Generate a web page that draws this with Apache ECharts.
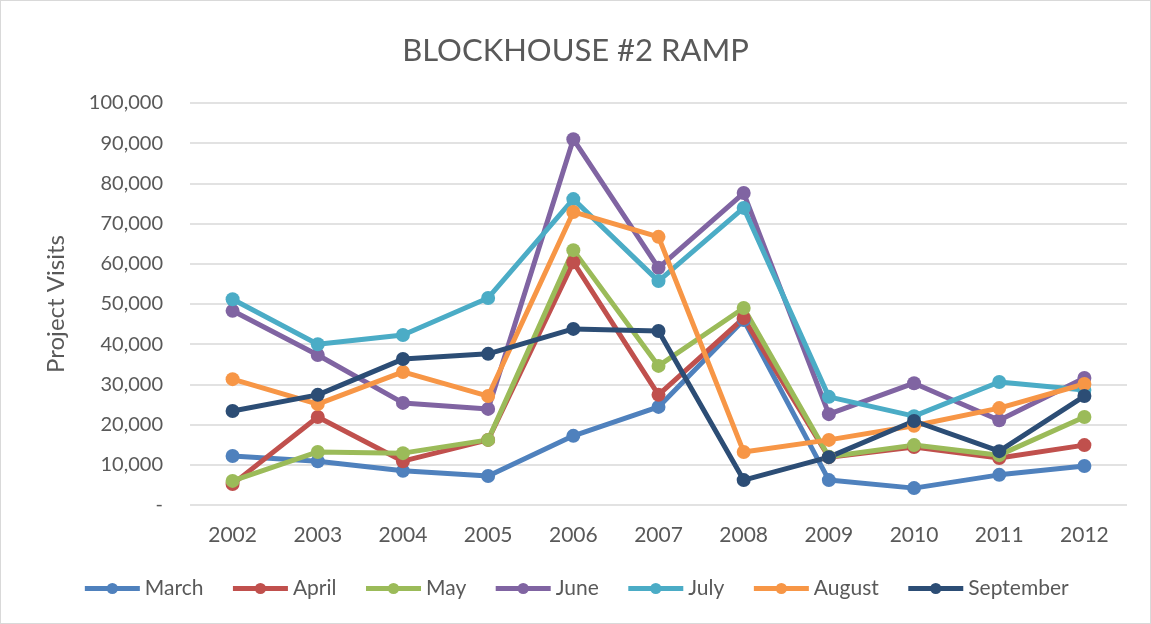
<!DOCTYPE html>
<html>
<head>
<meta charset="utf-8">
<script src="https://cdn.jsdelivr.net/npm/echarts@6/dist/echarts.min.js"></script>
<style>
html,body{margin:0;padding:0;background:#fff;}
#c{width:1149px;height:622px;border:1px solid #d9d9d9;}
</style>
</head>
<body>
<div id="c"></div>
<script>
const years = ['2002','2003','2004','2005','2006','2007','2008','2009','2010','2011','2012'];
const march = [12200,10900,8500,7200,17200,24400,46000,6200,4200,7500,9700];
const april = [5200,21900,10900,16200,60400,27400,46500,11900,14400,11700,14900];
const may = [6000,13200,12900,16200,63400,34600,49000,12000,14900,12400,21900];
const june = [48300,37300,25400,23900,91000,59000,77600,22600,30300,21100,31600];
const july = [51200,40000,42300,51500,76100,55700,73900,26900,22100,30600,28600];
const august = [31300,25100,33100,27100,72900,66700,13200,16200,19700,24100,30100];
const september = [23400,27400,36300,37600,43800,43300,6200,11900,20900,13400,27100];

const seriesDefs = [
  ['March', march, '#4F81BD'],
  ['April', april, '#C0504D'],
  ['May', may, '#9BBB59'],
  ['June', june, '#8064A2'],
  ['July', july, '#4BACC6'],
  ['August', august, '#F79646'],
  ['September', september, '#2C4D75']
];

const chart = echarts.init(document.getElementById('c'));
const font = 'Lato, "Open Sans", sans-serif';
chart.setOption({
  animation: false,
  title: {
    text: 'BLOCKHOUSE #2 RAMP',
    left: 'center',
    top: 29,
    textStyle: {fontFamily: font, fontSize: 31, fontWeight: 'normal', color: '#595959'}
  },
  legend: {
    bottom: 19,
    left: 'center',
    itemWidth: 55,
    itemHeight: 14,
    itemGap: 27,
    lineStyle: {width: 5},
    textStyle: {fontFamily: font, fontSize: 21, color: '#595959'},
    data: seriesDefs.map(d => d[0])
  },
  grid: {left: 189, right: 23, top: 102, bottom: 118},
  xAxis: {
    type: 'category',
    data: years,
    boundaryGap: true,
    axisLine: {show: false},
    axisTick: {show: false},
    axisLabel: {fontFamily: font, fontSize: 21, color: '#595959', margin: 20}
  },
  yAxis: {
    type: 'value',
    min: 0,
    max: 100000,
    interval: 10000,
    name: 'Project Visits',
    nameLocation: 'middle',
    nameGap: 122,
    nameTextStyle: {fontFamily: font, fontSize: 24, color: '#595959'},
    axisLine: {show: false},
    axisTick: {show: false},
    splitLine: {lineStyle: {color: '#d9d9d9', width: 1.5}},
    axisLabel: {
      fontFamily: font, fontSize: 20, color: '#595959', margin: 27,
      formatter: v => v === 0 ? '-' : v.toLocaleString('en-US')
    }
  },
  series: seriesDefs.map(d => ({
    name: d[0],
    type: 'line',
    data: d[1],
    symbol: 'circle',
    symbolSize: 14,
    lineStyle: {width: 5, color: d[2]},
    itemStyle: {color: d[2]}
  }))
});
</script>
</body>
</html>
